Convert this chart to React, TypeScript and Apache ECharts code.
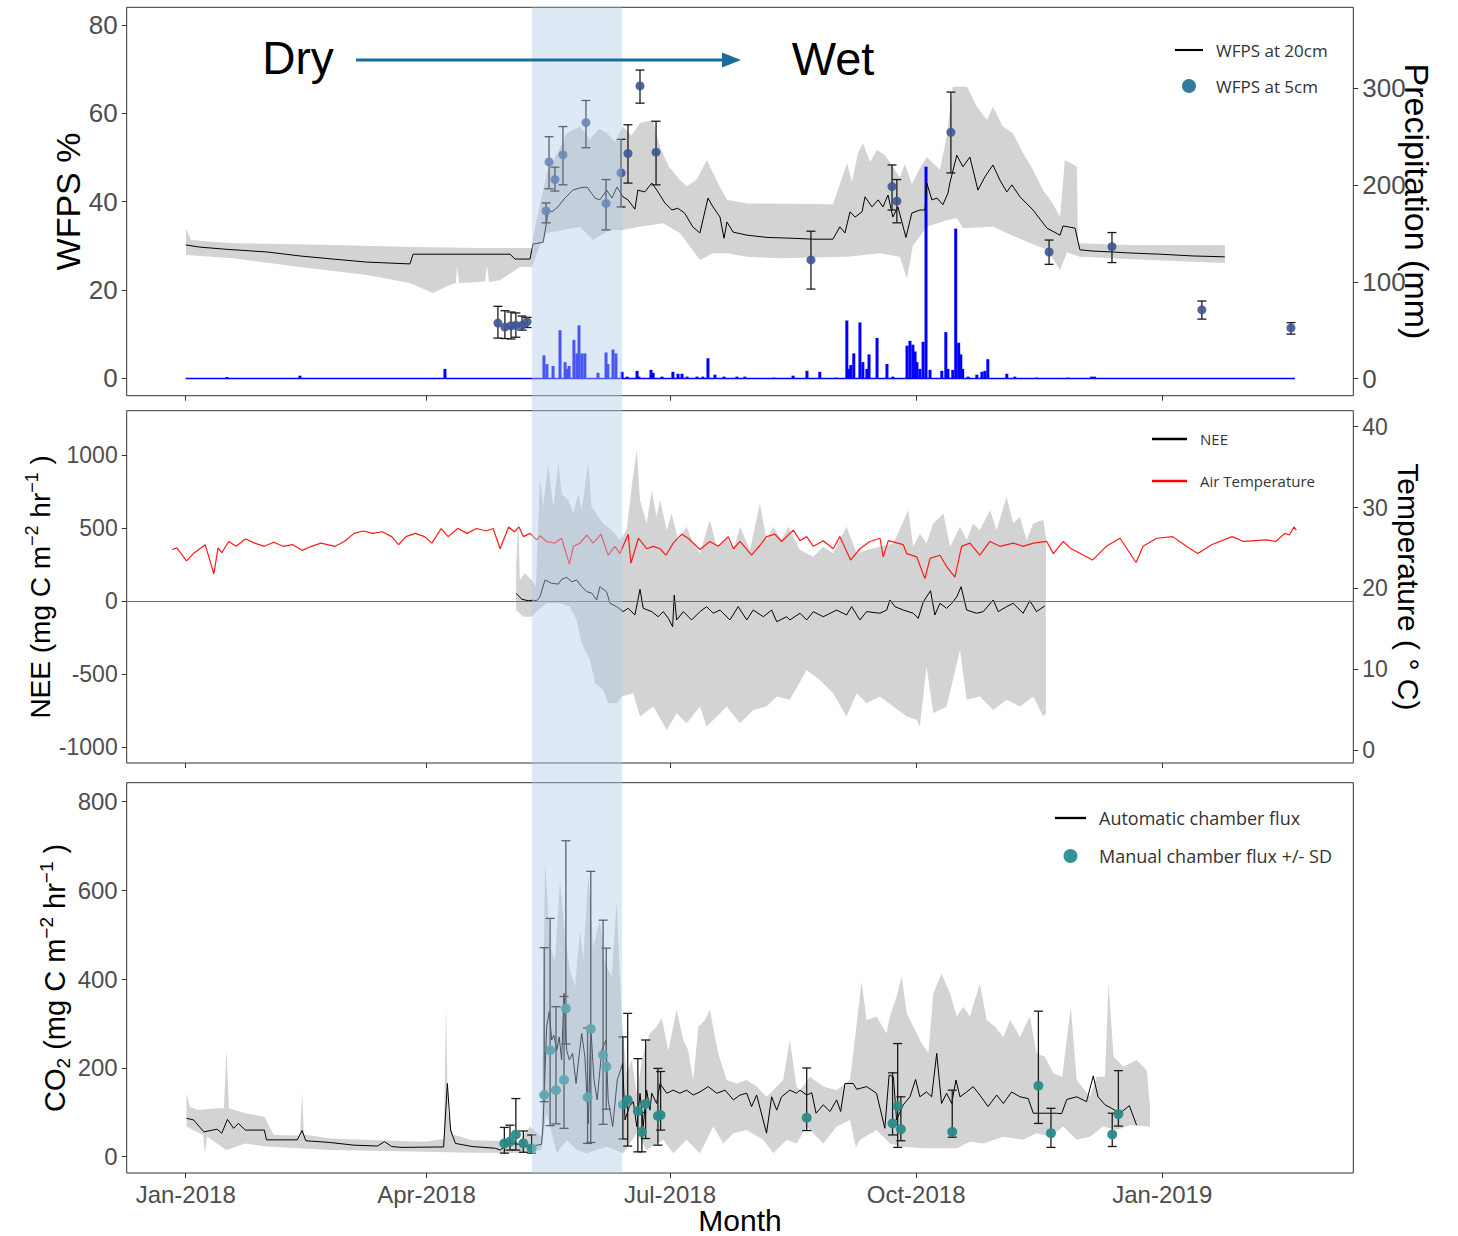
import React, { useEffect, useRef } from 'react';
import * as echarts from 'echarts';

// ---------- axes (x = days since 1 Jan 2018) ----------
const xMin = -22.05;
const xMax = 436.4;
const monthTickDays = [0, 90, 181, 273, 365];
const monthTickLabels = ['Jan-2018', 'Apr-2018', 'Jul-2018', 'Oct-2018', 'Jan-2019'];
const transitionStart = 129.4;
const transitionEnd = 163.1;

const wfpsTicks = [0, 20, 40, 60, 80];
const precipTicks = [0, 100, 200, 300];
const neeTicks = [-1000, -500, 0, 500, 1000];
const tempTicks = [0, 10, 20, 30, 40];
const co2Ticks = [0, 200, 400, 600, 800];

// ---------- panel 1: WFPS ----------
const wfps20 = [
  [0, 30.2], [5.3, 29.7], [15.4, 29.2], [30.4, 28.6], [42.7, 27.7], [55, 27.0], [67.8, 26.3], [83.8, 25.9],
  [85, 28.1], [110, 28.1], [121.2, 28.1], [123.1, 27.0], [128.7, 27.0], [129.8, 30.4], [133.6, 30.8],
  [135, 35.8], [135.4, 38.1], [136.9, 37.7], [139.1, 38.8], [141.7, 40.8], [144.7, 42.6], [147.3, 43.1],
  [150, 43.3], [153, 40.8], [154.8, 40.4], [157.4, 42.6], [159.3, 40.8], [161.2, 43.3], [163.4, 41.1],
  [165.3, 40.4], [167.9, 38.3], [169, 42.6], [171.6, 42.2], [174.2, 44.2], [176.1, 42.6], [179.1, 39.7],
  [181.7, 38.1], [183.9, 38.5], [186.5, 37.4], [189.5, 34.3], [192.2, 32.9], [195.2, 40.8], [197.1, 38.8],
  [199.7, 36.5], [201.2, 31.7], [202.3, 35.4], [204.6, 33.1], [209.8, 32.4], [217.3, 31.9], [227, 31.7],
  [234.4, 31.5], [241.9, 31.5], [244.5, 34.3], [246.4, 32.9], [248.3, 37.7], [250.2, 36.5], [252.8, 37.7],
  [253.9, 41.1], [256.5, 38.8], [258.8, 40.4], [260.6, 38.8], [262.5, 41.5], [264.3, 36.5], [266.2, 38.8],
  [269.2, 31.9], [271.4, 37.4], [274.4, 38.1], [276.3, 38.1], [277, 44.2], [278.9, 40.4], [280.8, 40.8],
  [283, 39.3], [284.9, 41.9], [285.6, 44.2], [288.2, 50.5], [290.5, 47.9], [293.1, 50.1], [296.1, 42.6],
  [298.7, 45.6], [301.7, 48.3], [304.3, 44.9], [306.9, 42.2], [308.8, 43.8], [311.8, 41.1], [316.7, 38.1],
  [321.9, 34.0], [326.8, 32.4], [327.9, 34.5], [332.4, 34.0], [334.2, 29.1], [339.1, 28.8], [346.5, 28.6],
  [351.8, 28.4], [364.1, 28.1], [376.5, 27.7], [388.4, 27.5],
];
const wfps20Upper = [
  [0.1, 34.0], [2.0, 31.3], [17.7, 30.6], [55.1, 30.2], [85.0, 29.7], [110, 29.5], [129.4, 29.5], [130.1, 32.9],
  [135, 46.5], [138.5, 50.5], [142.5, 55.5], [147.4, 57.0], [151.1, 54.1], [154.5, 56.5], [157.5, 55.5],
  [160.5, 53.5], [163.4, 57.0], [166.5, 55.0], [169.8, 57.8], [174.6, 58.5], [177.2, 52.4], [180.5, 48.0],
  [184.7, 44.9], [187.3, 43.5], [191.0, 45.0], [194.8, 49.4], [197.5, 46.0], [199.7, 43.3], [202.3, 40.4],
  [209.8, 39.6], [241.9, 39.4], [247.2, 48.7], [249, 44.5], [251.3, 51.0], [253.1, 53.2], [255.8, 49.0],
  [258.4, 51.7], [261.4, 50.5], [264.3, 47.9], [266.9, 45.5], [268.8, 48.5], [271.4, 44.0], [274.4, 47.5],
  [277, 50.1], [281.9, 47.2], [284.5, 55.0], [286.7, 66.0], [292, 66.0], [295.7, 61.5], [299.5, 58.5],
  [301.7, 61.5], [305.4, 57.0], [309.2, 55.5], [312.5, 51.5], [316.7, 47.2], [320.5, 42.5], [324.1, 39.6],
  [326.8, 36.5], [328.6, 49.4], [333.1, 47.9], [333.5, 30.6], [351.8, 30.2], [388.4, 30.2],
];
const wfps20Lower = [
  [0.1, 27.9], [17.7, 27.2], [42.7, 25.2], [67.8, 23.4], [83.8, 21.6], [92.4, 19.3], [98.8, 21.1], [101, 21.5],
  [101.4, 25.5], [102.2, 21.6], [110, 21.8], [111.9, 22.0], [112.6, 25.5], [113.4, 21.8], [117.5, 22.2],
  [124.9, 25.2], [129.4, 25.2], [132.4, 30.0], [135, 32.9], [141, 33.6], [147.4, 34.3], [152.1, 31.3],
  [158.5, 33.6], [163.4, 33.6], [169.8, 34.3], [178.4, 35.1], [184.7, 32.9], [192.2, 26.8], [197.1, 28.3],
  [202.3, 28.3], [209.8, 27.5], [222.1, 27.2], [247.2, 27.5], [259.5, 28.3], [266.9, 27.5], [269.6, 22.6],
  [271.8, 30.0], [277, 34.3], [284.5, 35.8], [288.2, 36.3], [290.5, 34.0], [301.7, 34.3], [306.9, 32.9],
  [314.4, 30.9], [321.9, 29.1], [326.8, 24.5], [329.4, 28.5], [334.2, 27.5], [351.8, 27.0], [376.5, 26.4],
  [388.4, 26.1],
];
// [day, mean, low, high]
const wfps5 = [
  [116.7, 12.5, 9.1, 16.3], [119.3, 11.6, 9.0, 15.3], [121.6, 11.9, 8.9, 15.0], [123.4, 12.0, 9.3, 14.8],
  [125.7, 12.0, 10.9, 14.1], [127.6, 12.8, 11.5, 13.8], [134.7, 37.9, 35.2, 39.7], [135.8, 49.0, 42.9, 54.7],
  [138.0, 45.0, 42.4, 47.8], [141.0, 50.6, 43.8, 57.0], [149.6, 57.9, 52.2, 62.9], [157.1, 39.6, 33.6, 45.0],
  [162.7, 46.5, 38.8, 54.1], [165.3, 50.9, 44.2, 57.4], [169.8, 66.2, 62.3, 69.8], [175.8, 51.2, 43.8, 58.2],
  [233.7, 26.8, 20.2, 33.3], [264.0, 43.4, 38.1, 48.3], [265.8, 40.1, 35.2, 45.0], [286.0, 55.7, 46.5, 64.8],
  [322.7, 28.6, 25.8, 31.3], [346.2, 29.8, 26.2, 33.0], [379.8, 15.5, 13.4, 17.5], [413.1, 11.4, 10.0, 12.6],
];
const precipStartDay = 0;
const precipEndDay = 414.6;
const precipitation = [
  [15.4, 1.5], [42.7, 3], [96.9, 10], [133.9, 24], [135.0, 15], [137.3, 13], [139.9, 50], [141.8, 17],
  [142.5, 10], [143.3, 13], [145.1, 40], [146.2, 26], [147.0, 55], [148.1, 26], [149.2, 26], [154.1, 6],
  [157.1, 27], [157.8, 15], [159.7, 30], [160.8, 26], [163.1, 7], [165.0, 2], [168.7, 8], [169.4, 2],
  [173.9, 9], [174.7, 6], [178.0, 2], [182.1, 7], [184.0, 5], [185.5, 5], [187.4, 2], [191.1, 2], [193.3, 2],
  [195.2, 21], [197.8, 4], [201.2, 2], [206.0, 2], [209.0, 2], [219.9, 1], [227.0, 3], [232.2, 8], [237.0, 7],
  [243.0, 1], [247.1, 60], [247.9, 10], [248.6, 14], [249.7, 26], [252.0, 58], [253.1, 17], [254.6, 10],
  [255.4, 25], [258.4, 42], [262.1, 15], [264.3, 2], [269.6, 34], [270.7, 39], [271.8, 35], [272.6, 28],
  [273.3, 17], [274.4, 10], [275.6, 38], [276.7, 219], [278.2, 9], [282.6, 8], [284.1, 48], [284.9, 10],
  [286.7, 9], [287.8, 155], [288.9, 37], [289.7, 25], [290.4, 10], [292.4, 2], [295.7, 4], [297.6, 7],
  [298.7, 8], [299.8, 20], [306.9, 5], [309.9, 2], [318.1, 1], [329.7, 1], [338.6, 2], [339.7, 2],
];

// ---------- panel 2: NEE & air temperature ----------
const nee = [
  [123.5, 53], [125.6, 12], [128.0, 2], [129.9, 5], [131.2, 2], [132.4, 29], [134.3, 144], [136.8, 121],
  [139.3, 116], [140.5, 149], [142.4, 162], [144.3, 132], [146.1, 144], [148.0, 98], [149.9, 64], [151.7, 55],
  [153.6, 7], [154.8, 98], [157.3, 64], [158.6, -16], [161.1, -39], [163.5, -73], [165.4, -50], [167.9, -96],
  [169.8, 80], [171.0, -50], [174.2, -73], [176.6, -108], [178.5, -73], [180.4, -119], [182.0, -176],
  [182.6, 41], [183.5, -130], [186.0, -73], [189.1, -130], [192.2, -73], [194.7, -39], [197.2, -84],
  [199.7, -62], [203.4, -130], [206.5, -39], [209.7, -130], [212.1, -62], [215.9, -108], [219.0, -62],
  [220.9, -142], [224.6, -108], [225.8, -130], [229.6, -84], [232.1, -130], [234.6, -73], [238.3, -108],
  [243.3, -62], [247.0, -96], [248.9, -39], [252.0, -130], [254.5, -73], [259.5, -84], [262.0, -62],
  [263.2, 7], [265.1, -39], [268.2, -62], [271.9, -84], [273.8, -119], [275.7, -5], [278.4, 70], [280.0, -96],
  [281.9, -16], [284.4, -50], [286.3, -16], [288.2, 29], [289.8, 98], [291.9, -62], [295.6, -84], [298.1, -73],
  [301.8, 7], [303.7, -73], [306.8, -39], [309.3, -16], [313.0, -84], [315.5, 2], [318.0, -73], [321.1, -34],
];
const neeUpper = [
  [123.5, 235], [124.3, 555], [124.9, 144], [126.8, 190], [129.3, 144], [130.9, 100], [132.4, 851], [133.6, 646],
  [135.5, 932], [137.4, 646], [139.3, 954], [140.5, 733], [143.0, 692], [144.9, 600], [146.7, 733], [148.0, 623],
  [150.5, 954], [151.7, 646], [154.2, 577], [156.1, 532], [159.2, 486], [162.3, 418], [164.8, 486], [166.7, 783],
  [168.6, 1034], [169.8, 692], [172.3, 532], [174.2, 760], [176.0, 577], [177.3, 692], [179.8, 486], [181.6, 600],
  [184.1, 418], [187.2, 509], [189.7, 395], [192.2, 326], [195.9, 555], [198.5, 372], [202.2, 441], [204.7, 349],
  [207.2, 509], [210.9, 349], [214.6, 669], [217.1, 418], [219.6, 509], [222.7, 418], [225.2, 509], [229.6, 349],
  [234.6, 303], [238.3, 372], [242.0, 326], [247.0, 509], [250.8, 326], [254.5, 349], [259.5, 372], [264.5, 395],
  [270.1, 623], [271.9, 372], [274.4, 463], [276.9, 395], [279.4, 532], [283.2, 600], [285.7, 372], [289.4, 509],
  [291.9, 418], [294.3, 532], [296.8, 486], [300.6, 623], [303.1, 486], [306.8, 714], [309.3, 532], [311.8, 577],
  [314.3, 418], [316.8, 532], [320.5, 555], [321.5, 441],
];
const neeLower = [
  [123.5, -62], [126.2, -108], [129.3, -108], [131.8, -62], [134.9, -16], [139.9, -16], [143.6, -39], [146.1, -130],
  [148.0, -290], [151.1, -404], [153.0, -564], [156.1, -610], [157.9, -701], [161.1, -701], [163.0, -655],
  [167.3, -632], [169.8, -792], [174.8, -724], [179.8, -884], [183.5, -770], [187.2, -838], [192.2, -724],
  [194.7, -861], [198.5, -792], [202.2, -724], [207.2, -838], [212.1, -747], [217.1, -724], [220.9, -655],
  [225.8, -678], [232.1, -473], [237.0, -541], [242.0, -632], [247.0, -792], [250.8, -632], [254.5, -701],
  [259.5, -655], [264.5, -724], [269.5, -792], [273.2, -815], [274.4, -861], [276.9, -450], [279.4, -770],
  [284.4, -724], [289.4, -336], [291.9, -678], [296.8, -655], [301.8, -747], [306.8, -678], [311.8, -724],
  [316.8, -655], [320.5, -792], [321.5, -770],
];
const airTemperature = [
  [-5.1, 24.8], [-3.3, 25.0], [0.3, 23.4], [2.9, 24.3], [7.3, 25.4], [10.5, 21.8], [12.1, 25.0], [13.5, 24.4],
  [16.1, 25.8], [18.8, 25.2], [22.3, 26.1], [25.8, 25.6], [29.4, 25.2], [32.9, 25.7], [36.4, 25.2], [40.0, 25.4],
  [43.5, 24.7], [47.0, 25.2], [50.5, 25.6], [55.8, 25.2], [59.3, 25.8], [62.9, 26.8], [66.4, 27.1], [69.9, 26.8],
  [73.5, 27.0], [77.0, 26.4], [79.6, 25.4], [82.3, 26.4], [85.8, 26.8], [89.3, 26.4], [92.0, 25.6], [95.5, 27.4],
  [98.1, 26.4], [101.7, 27.4], [105.2, 26.8], [108.7, 27.4], [112.3, 27.1], [114.9, 27.4], [117.5, 24.9],
  [120.7, 27.6], [122.8, 27.0], [124.6, 27.6], [126.2, 26.4], [128.7, 26.8], [131.2, 26.0], [132.4, 26.5],
  [134.9, 25.8], [138.0, 25.6], [140.5, 26.2], [143.4, 23.0], [144.9, 25.2], [147.4, 25.6], [149.9, 26.6],
  [152.3, 25.6], [155.2, 26.7], [157.9, 24.1], [160.4, 25.2], [162.3, 24.3], [165.4, 26.7], [166.4, 23.1],
  [169.2, 26.2], [172.3, 24.9], [174.8, 25.2], [177.3, 24.9], [179.5, 24.1], [182.2, 25.6], [185.4, 26.7],
  [187.8, 26.2], [192.2, 24.8], [195.9, 25.8], [199.0, 25.2], [202.8, 26.4], [204.7, 24.9], [207.2, 25.8],
  [211.5, 24.1], [214.6, 25.3], [217.1, 26.4], [220.2, 26.7], [222.7, 25.8], [227.1, 27.2], [229.6, 25.9],
  [232.1, 26.4], [234.6, 25.2], [238.3, 25.9], [242.0, 24.9], [244.5, 26.4], [248.5, 23.5], [252.0, 24.9],
  [255.7, 25.8], [259.5, 26.2], [260.7, 23.9], [262.6, 25.9], [268.2, 25.4], [269.5, 24.3], [273.2, 23.9],
  [276.3, 21.2], [278.2, 23.7], [281.9, 24.1], [284.4, 22.7], [287.5, 21.4], [290.0, 25.2], [293.1, 25.6],
  [296.8, 24.1], [300.6, 25.8], [304.3, 25.2], [309.3, 25.6], [313.0, 25.2], [316.8, 25.6], [321.8, 25.8],
  [324.3, 24.3], [328.0, 25.8], [330.5, 25.0], [338.9, 23.5], [344.1, 25.2], [349.2, 26.2], [355.2, 23.2],
  [357.8, 25.2], [362.9, 26.2], [368.9, 26.4], [374.0, 25.2], [378.3, 24.3], [383.4, 25.4], [391.1, 26.4],
  [395.4, 25.8], [404.0, 26.0], [407.4, 25.8], [410.8, 26.8], [412.5, 26.6], [414.2, 27.6], [415.1, 27.2],
];

// ---------- panel 3: CO2 ----------
const co2Auto = [
  [0.3, 86.5], [2.9, 83], [6.8, 56], [11.7, 62], [13.5, 53], [15.6, 84], [17.9, 64], [19.7, 75], [22.3, 60],
  [29.4, 60], [30.2, 38], [41.7, 38], [43.5, 59], [44.9, 36], [54.0, 32], [62.9, 26], [71.7, 24], [74.3, 34],
  [77.0, 23], [80.5, 21], [96.4, 22], [97.8, 165], [99.0, 60], [100.8, 30], [107.0, 23], [115.8, 19], [117.5, 15],
  [121.1, 30], [124.6, 28], [129.0, 23], [133.0, 28], [133.6, 75], [134.9, 293], [135.9, 327], [136.8, 263],
  [137.6, 274], [138.7, 240], [139.6, 270], [140.5, 218], [141.4, 368], [142.4, 240], [143.4, 218], [144.6, 233],
  [145.9, 165], [146.7, 210], [148.0, 278], [149.2, 225], [150.5, 75], [151.4, 293], [152.6, 173], [153.8, 128],
  [155.5, 240], [157.1, 263], [157.9, 128], [159.6, 68], [161.3, 173], [163.3, 210], [164.2, 83], [165.8, 113],
  [167.3, 124], [168.6, 68], [169.8, 143], [171.0, 68], [172.3, 150], [173.5, 105], [174.2, 143], [176.0, 120],
  [177.3, 165], [179.8, 143], [182.2, 150], [184.7, 143], [187.2, 150], [189.7, 139], [192.2, 146], [195.3, 158],
  [198.5, 143], [201.6, 150], [204.7, 128], [207.2, 139], [209.7, 143], [211.5, 113], [213.4, 139], [217.1, 53],
  [219.0, 135], [220.9, 105], [222.7, 135], [225.8, 150], [228.3, 143], [229.6, 150], [232.1, 139], [234.0, 144],
  [235.6, 98], [238.3, 117], [240.8, 102], [243.3, 128], [244.8, 102], [246.4, 165], [249.5, 165], [250.8, 152],
  [254.5, 158], [258.2, 143], [261.3, 64], [262.9, 184], [264.5, 180], [265.7, 83], [268.2, 117], [270.7, 135],
  [272.8, 174], [274.4, 135], [276.9, 146], [278.8, 135], [280.7, 233], [282.5, 120], [284.4, 143], [286.3, 120],
  [287.9, 173], [289.4, 135], [291.9, 146], [294.3, 158], [296.8, 139], [299.9, 113], [303.1, 139], [305.6, 120],
  [308.7, 146], [311.8, 135], [314.9, 131], [316.8, 98], [320.5, 98], [325.5, 98], [327.4, 97], [329.3, 129],
  [333.0, 135], [336.7, 124], [339.2, 182], [341.0, 135], [343.6, 117], [346.1, 109], [349.2, 98], [352.7, 115],
  [355.4, 71],
];
const co2Upper = [
  [0.3, 143], [1.6, 112], [4.6, 105], [11.7, 109], [14.3, 110], [15.2, 240], [16.2, 109], [22.3, 98], [29.4, 90],
  [32.9, 49], [42.7, 48], [43.5, 146], [44.2, 50], [54.0, 41], [71.7, 37], [89.3, 34], [96.5, 40], [97.3, 338],
  [98.0, 100], [99.9, 50], [107.0, 37], [124.6, 34], [128.7, 68], [133.0, 45], [134.3, 669], [136.2, 473],
  [138.0, 443], [139.9, 623], [141.8, 496], [143.6, 421], [145.5, 383], [147.4, 511], [148.6, 443], [150.5, 639],
  [152.3, 473], [154.8, 533], [156.7, 436], [159.2, 406], [161.1, 575], [163.0, 308], [164.8, 188], [166.7, 218],
  [168.6, 143], [171.0, 233], [173.5, 278], [176.0, 293], [177.9, 312], [180.4, 240], [183.5, 331], [186.0, 263],
  [187.8, 240], [189.7, 173], [191.6, 293], [194.1, 308], [195.9, 331], [199.0, 233], [202.2, 173], [205.9, 165],
  [209.7, 173], [213.4, 158], [217.1, 135], [219.6, 150], [223.3, 173], [225.8, 263], [228.3, 158], [229.6, 150],
  [233.3, 180], [238.3, 158], [243.3, 150], [248.3, 173], [250.8, 301], [252.6, 394], [254.5, 308], [258.2, 316],
  [261.9, 278], [263.2, 316], [265.7, 361], [267.6, 406], [269.5, 323], [272.0, 293], [275.1, 255], [277.6, 233],
  [279.4, 368], [282.5, 413], [285.7, 368], [288.2, 316], [290.6, 338], [293.1, 316], [296.8, 390], [299.4, 308],
  [302.5, 293], [305.6, 270], [308.1, 308], [311.8, 270], [315.5, 316], [318.0, 233], [321.1, 225], [324.3, 188],
  [327.6, 180], [330.8, 338], [333.0, 173], [338.0, 135], [340.5, 180], [343.6, 180], [344.9, 390], [346.8, 225],
  [350.5, 203], [355.4, 218], [359.2, 195], [360.4, 113],
];
const co2Lower = [
  [0.3, 68], [6.5, 49], [7.2, 8], [8.0, 45], [15.2, 15], [22.3, 30], [30.2, 23], [54.0, 15], [89.3, 11],
  [107.0, 9], [124.6, 8], [133.0, 15], [134.9, 98], [138.7, 8], [142.4, 38], [146.1, 15], [149.9, 8], [157.3, 23],
  [163.5, 8], [168.6, 53], [172.3, 15], [178.5, 38], [182.2, 8], [187.2, 38], [192.2, 8], [197.2, 68], [200.9, 30],
  [204.7, 53], [209.7, 60], [215.9, 38], [219.6, 8], [224.6, 38], [228.3, 30], [232.1, 68], [238.3, 30],
  [243.3, 68], [248.3, 83], [250.5, 20], [252.0, 38], [258.2, 60], [263.2, 30], [266.9, 23], [275.6, 19],
  [288.2, 19], [293.1, 34], [298.1, 30], [305.6, 45], [313.0, 38], [318.0, 53], [323.0, 45], [328.0, 68],
  [333.0, 38], [338.0, 45], [342.9, 68], [347.9, 60], [352.9, 71], [360.4, 68],
];
// [day, mean, low, high]
const co2Manual = [
  [119.1, 30, 8, 66], [121.2, 34, 15, 71], [123.4, 50, 15, 131], [126.2, 30, 10, 58], [129.3, 19, 8, 49],
  [134.0, 139, 124, 471], [136.2, 240, 70, 537], [138.4, 150, 74, 338], [141.4, 173, 64, 361],
  [142.1, 334, 254, 712], [150.2, 134, 30, 290], [151.4, 288, 32, 643], [156.0, 229, 73, 533],
  [157.2, 203, 107, 470], [163.4, 117, 40, 270], [165.2, 128, 24, 323], [169.0, 103, 11, 221],
  [170.5, 56, 11, 100], [171.9, 119, 41, 263], [176.5, 92, 26, 199], [177.5, 94, 60, 192],
  [232.1, 88, 59, 200], [264.2, 75, 49, 189], [266.1, 114, 21, 255], [267.3, 62, 36, 135],
  [286.5, 56, 44, 150], [318.7, 160, 75, 328], [323.4, 53, 21, 109], [346.3, 50, 23, 98], [348.6, 96, 69, 194],
];

// ---------- styling ----------
const AX_FONT = '"Liberation Sans", Arial, sans-serif';
const LEG_FONT = '"Open Sans", sans-serif';
const LINE_ICON = 'path://M0,0H40V3H0Z';
const RIBBON = '#d3d3d3';

function ribbonSeries(upper: number[][], lower: number[][], xAxisIndex: number, yAxisIndex: number) {
  return {
    type: 'custom', xAxisIndex, yAxisIndex, z: 1, silent: true,
    data: [upper[0]],
    renderItem: (params: any, api: any) => {
      const pts = upper.map((p) => api.coord(p)).concat(lower.slice().reverse().map((p) => api.coord(p)));
      return { type: 'polygon', shape: { points: pts }, style: { fill: RIBBON } };
    },
  };
}

function errorBarSeries(points: number[][], xAxisIndex: number, yAxisIndex: number) {
  return {
    type: 'custom', xAxisIndex, yAxisIndex, z: 4, silent: true,
    data: points.map((p) => [p[0], p[2], p[3]]),
    encode: { x: 0, y: [1, 2] },
    renderItem: (params: any, api: any) => {
      const x = api.value(0);
      const top = api.coord([x, api.value(2)]);
      const bot = api.coord([x, api.value(1)]);
      const h = 4.5;
      const st = { stroke: '#1a1a1a', lineWidth: 1.3 };
      return {
        type: 'group',
        children: [
          { type: 'line', shape: { x1: top[0], y1: top[1], x2: bot[0], y2: bot[1] }, style: st },
          { type: 'line', shape: { x1: top[0] - h, y1: top[1], x2: top[0] + h, y2: top[1] }, style: st },
          { type: 'line', shape: { x1: bot[0] - h, y1: bot[1], x2: bot[0] + h, y2: bot[1] }, style: st },
        ],
      };
    },
  };
}

function xAx(gridIndex: number, labels: boolean) {
  return {
    type: 'value', gridIndex, min: xMin, max: xMax,
    splitLine: { show: false },
    axisLine: { show: false, onZero: false },
    axisTick: { show: true, customValues: monthTickDays, length: 5, lineStyle: { color: '#333' } },
    axisLabel: {
      show: labels, customValues: monthTickDays, margin: 9, fontSize: 24, color: '#4d4d4d', fontFamily: AX_FONT,
      formatter: (v: number) => monthTickLabels[monthTickDays.indexOf(v)] ?? '',
    },
    ...(labels ? {
      name: 'Month', nameLocation: 'middle', nameGap: 32, nameMoveOverlap: false,
      nameTextStyle: { fontSize: 30, color: '#000', fontFamily: AX_FONT },
    } : {}),
  };
}

function yAx(gridIndex: number, min: number, max: number, ticks: number[], fontSize: number, extra: any) {
  return {
    type: 'value', gridIndex, min, max,
    splitLine: { show: false },
    axisLine: { show: false, onZero: false },
    axisTick: { show: true, customValues: ticks, length: 5, lineStyle: { color: '#333' } },
    axisLabel: {
      customValues: ticks, margin: 9, fontSize, color: '#4d4d4d', fontFamily: AX_FONT,
      formatter: (v: number) => String(v),
    },
    nameLocation: 'middle',
    nameMoveOverlap: false,
    ...extra,
  };
}

const supRich = (base: number) => ({
  b: { fontSize: base, fontFamily: AX_FONT, color: '#000', lineHeight: 36 },
  s: { fontSize: Math.round(base * 0.65), fontFamily: AX_FONT, color: '#000', verticalAlign: 'top', lineHeight: 20 },
  u: { fontSize: Math.round(base * 0.65), fontFamily: AX_FONT, color: '#000', verticalAlign: 'bottom', lineHeight: 20 },
});

function buildOption(): any {
  const gridBox = { show: true, borderColor: '#333', borderWidth: 1, left: 126.7, width: 1226.6 };
  return {
    animation: false,
    grid: [
      { ...gridBox, top: 7.3, height: 388.4 },
      { ...gridBox, top: 410.7, height: 352.3 },
      { ...gridBox, top: 782.7, height: 390.3 },
      { show: false, left: 126.7, width: 1226.6, top: 7.3, height: 1165.7 },
    ],
    xAxis: [xAx(0, false), xAx(1, false), xAx(2, true),
      { type: 'value', gridIndex: 3, min: xMin, max: xMax, show: false }],
    yAxis: [
      yAx(0, -3.94, 84.0, wfpsTicks, 26, {
        name: 'WFPS %', nameGap: 42, nameTextStyle: { fontSize: 34, color: '#000', fontFamily: AX_FONT },
      }),
      yAx(0, -17.7, 383.7, precipTicks, 26, {
        position: 'right', name: 'Precipitation (mm)', nameGap: 47, nameRotate: -90,
        nameTextStyle: { fontSize: 34, color: '#000', fontFamily: AX_FONT },
      }),
      yAx(1, -1111, 1305, neeTicks, 23, {
        name: '{b|NEE (mg C m}{s|−2}{b| hr}{s|−1}{b| )}', nameGap: 68,
        nameTextStyle: { rich: supRich(28) },
      }),
      yAx(1, -1.61, 41.98, tempTicks, 23, {
        position: 'right', name: 'Temperature ( ° C)', nameGap: 40, nameRotate: -90,
        nameTextStyle: { fontSize: 30, color: '#000', fontFamily: AX_FONT },
      }),
      yAx(2, -36.7, 842.8, co2Ticks, 24, {
        name: '{b|CO}{u|2}{b| (mg C m}{s|−2}{b| hr}{s|−1}{b| )}', nameGap: 54,
        nameTextStyle: { rich: supRich(29) },
      }),
      { type: 'value', gridIndex: 3, min: 0, max: 1, show: false },
    ],
    legend: [
      {
        selectedMode: false, orient: 'vertical', left: 1170, top: 35, itemWidth: 28, itemHeight: 14, itemGap: 16,
        textStyle: { fontFamily: LEG_FONT, fontSize: 17, color: '#333', lineHeight: 20, padding: [0, 0, 0, 8] },
        data: [
          { name: 'WFPS at 20cm', icon: LINE_ICON, itemStyle: { color: '#000' } },
          { name: 'WFPS at 5cm', icon: 'circle', itemStyle: { color: '#1b6e8e' } },
        ],
      },
      {
        selectedMode: false, orient: 'vertical', left: 1147, top: 424, itemWidth: 35, itemHeight: 14, itemGap: 22,
        textStyle: { fontFamily: LEG_FONT, fontSize: 15, color: '#333', lineHeight: 20, padding: [0, 0, 0, 8] },
        data: [
          { name: 'NEE', icon: LINE_ICON, itemStyle: { color: '#000' } },
          { name: 'Air Temperature', icon: LINE_ICON, itemStyle: { color: '#ff0000' } },
        ],
      },
      {
        selectedMode: false, orient: 'vertical', left: 1050, top: 802, itemWidth: 31, itemHeight: 14, itemGap: 16,
        textStyle: { fontFamily: LEG_FONT, fontSize: 18, color: '#333', lineHeight: 22, padding: [0, 0, 0, 8] },
        data: [
          { name: 'Automatic chamber flux', icon: LINE_ICON, itemStyle: { color: '#000' } },
          { name: 'Manual chamber flux +/- SD', icon: 'circle', itemStyle: { color: '#2a8d8d' } },
        ],
      },
    ],
    graphic: [
      { type: 'text', x: 298, y: 58, z: 20, style: { text: 'Dry', fontSize: 46, fontFamily: AX_FONT, fill: '#000', align: 'center', verticalAlign: 'middle' } },
      { type: 'text', x: 833, y: 58, z: 20, style: { text: 'Wet', fontSize: 47, fontFamily: AX_FONT, fill: '#000', align: 'center', verticalAlign: 'middle' } },
      { type: 'line', z: 20, shape: { x1: 356, y1: 60, x2: 726, y2: 60 }, style: { stroke: '#1b6c9c', lineWidth: 3 } },
      { type: 'polygon', z: 20, shape: { points: [[722, 52.5], [741, 60], [722, 67.5]] }, style: { fill: '#1b6c9c' } },
    ],
    series: [
      // panel 1
      ribbonSeries(wfps20Upper, wfps20Lower, 0, 0),
      {
        type: 'line', name: 'precipitation baseline', xAxisIndex: 0, yAxisIndex: 1, z: 2, symbol: 'none', silent: true,
        data: [[precipStartDay, 0], [precipEndDay, 0]], lineStyle: { color: '#0000ff', width: 1.5 },
      },
      {
        type: 'bar', name: 'Precipitation', xAxisIndex: 0, yAxisIndex: 1, z: 2, barWidth: 3, silent: true,
        data: precipitation, itemStyle: { color: '#0000ff' },
      },
      {
        type: 'line', name: 'WFPS at 20cm', xAxisIndex: 0, yAxisIndex: 0, z: 3, symbol: 'none',
        data: wfps20, lineStyle: { color: '#000', width: 1 }, itemStyle: { color: '#000' },
      },
      errorBarSeries(wfps5, 0, 0),
      {
        type: 'scatter', name: 'WFPS at 5cm', xAxisIndex: 0, yAxisIndex: 0, z: 5, symbolSize: 9,
        data: wfps5.map((p) => [p[0], p[1]]), itemStyle: { color: '#3e5494', opacity: 0.9 },
      },
      // panel 2
      ribbonSeries(neeUpper, neeLower, 1, 2),
      {
        type: 'line', name: 'Air Temperature', xAxisIndex: 1, yAxisIndex: 3, z: 3, symbol: 'none',
        data: airTemperature, lineStyle: { color: '#ff1a1a', width: 1.2 }, itemStyle: { color: '#ff0000' },
      },
      {
        type: 'line', name: 'NEE', xAxisIndex: 1, yAxisIndex: 2, z: 3, symbol: 'none',
        data: nee, lineStyle: { color: '#000', width: 1 }, itemStyle: { color: '#000' },
        markLine: {
          silent: true, symbol: ['none', 'none'], label: { show: false },
          lineStyle: { color: '#6e6e6e', width: 1, type: 'solid' }, data: [{ yAxis: 0 }],
        },
      },
      // panel 3
      ribbonSeries(co2Upper, co2Lower, 2, 4),
      {
        type: 'line', name: 'Automatic chamber flux', xAxisIndex: 2, yAxisIndex: 4, z: 3, symbol: 'none',
        data: co2Auto, lineStyle: { color: '#000', width: 1 }, itemStyle: { color: '#000' },
      },
      errorBarSeries(co2Manual, 2, 4),
      {
        type: 'scatter', name: 'Manual chamber flux +/- SD', xAxisIndex: 2, yAxisIndex: 4, z: 5, symbolSize: 10,
        data: co2Manual.map((p) => [p[0], p[1]]), itemStyle: { color: '#2a8a8a', opacity: 0.95 },
      },
      // dry-to-wet transition band across all panels
      {
        type: 'custom', xAxisIndex: 3, yAxisIndex: 5, z: 10, silent: true,
        data: [[transitionStart, 0, transitionEnd, 1]],
        encode: { x: [0, 2], y: [1, 3] },
        renderItem: (params: any, api: any) => {
          const a = api.coord([api.value(0), api.value(3)]);
          const b = api.coord([api.value(2), api.value(1)]);
          return {
            type: 'rect', shape: { x: a[0], y: a[1], width: b[0] - a[0], height: b[1] - a[1] },
            style: { fill: 'rgba(173,205,234,0.42)' },
          };
        },
      },
    ],
  };
}

export default function App() {
  const ref = useRef<HTMLDivElement>(null);
  useEffect(() => {
    if (!ref.current) return;
    const chart = echarts.init(ref.current, null, { renderer: 'svg' });
    chart.setOption(buildOption());
    return () => chart.dispose();
  }, []);
  return (
    <div
      ref={ref}
      style={{ position: 'absolute', left: 0, top: 0, width: 1458, height: 1236, background: '#fff' }}
    />
  );
}
